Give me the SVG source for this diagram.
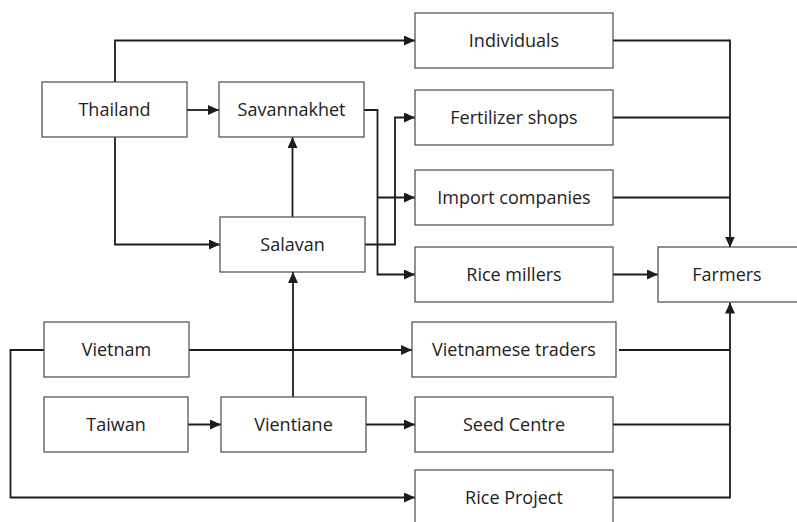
<svg xmlns="http://www.w3.org/2000/svg" width="797" height="522" viewBox="0 0 797 522">
  <style>
    .box rect { fill: #ffffff; stroke: #4a4a4a; stroke-width: 1.2; }
    .box text { font-family: "Open Sans", "Noto Sans", "Liberation Sans", sans-serif; font-size: 18px; fill: #222222; text-anchor: middle; }
    .edges path { fill: none; stroke: #1c1c1c; stroke-width: 1.8; stroke-linejoin: miter; }
    .edges path.a { marker-end: url(#arr); }
  </style>
  <defs>
    <marker id="arr" markerWidth="11" markerHeight="10" refX="11" refY="5" orient="auto" markerUnits="userSpaceOnUse">
      <path d="M0,0 L11,5 L0,10 Z" fill="#1c1c1c"/>
    </marker>
  </defs>
  <rect width="797" height="522" fill="#ffffff"/>

  <g class="edges" id="connectors">
    <!-- Thailand -> Individuals -->
    <path class="a" d="M115,82 V40.5 H415"/>
    <!-- Thailand -> Savannakhet -->
    <path class="a" d="M187,110 H219"/>
    <!-- Thailand -> Salavan -->
    <path class="a" d="M115,137 V244.5 H220"/>
    <!-- Salavan -> Savannakhet -->
    <path class="a" d="M292.5,217 V137"/>
    <!-- Vientiane -> Salavan -->
    <path class="a" d="M293,397 V272"/>
    <!-- Savannakhet -> Rice millers / Import companies -->
    <path class="a" d="M364,110 H377.5 V274.5 H415"/>
    <path class="a" d="M377.5,197.5 H415"/>
    <!-- Salavan -> Fertilizer shops -->
    <path class="a" d="M365,244.5 H395 V117.5 H415"/>
    <!-- Vietnam -> Vietnamese traders -->
    <path class="a" d="M189,350 H412"/>
    <!-- Vietnam -> Rice Project -->
    <path class="a" d="M44,350 H10.5 V497.5 H415"/>
    <!-- Taiwan -> Vientiane -->
    <path class="a" d="M188,424.5 H221"/>
    <!-- Vientiane -> Seed Centre -->
    <path class="a" d="M366,424.5 H415"/>
    <!-- upper suppliers -> Farmers (top) -->
    <path class="a" d="M613,40.5 H730 V247.5"/>
    <path d="M613,117.5 H730"/>
    <path d="M613,197.5 H730"/>
    <!-- Rice millers -> Farmers -->
    <path class="a" d="M613,274.5 H658"/>
    <!-- lower suppliers -> Farmers (bottom) -->
    <path class="a" d="M613,497.5 H730 V302.5"/>
    <path d="M619,350 H730"/>
    <path d="M613,424.5 H730"/>
  </g>

  <g class="box" id="thailand"><rect x="42" y="82" width="145" height="55"/><text x="114.5" y="116">Thailand</text></g>
  <g class="box" id="savannakhet"><rect x="219" y="82" width="145" height="55"/><text x="291.5" y="116">Savannakhet</text></g>
  <g class="box" id="salavan"><rect x="220" y="217" width="145" height="55"/><text x="292.5" y="251">Salavan</text></g>
  <g class="box" id="vietnam"><rect x="44" y="322" width="145" height="55"/><text x="116.5" y="356">Vietnam</text></g>
  <g class="box" id="taiwan"><rect x="44" y="397" width="144" height="55"/><text x="116" y="431">Taiwan</text></g>
  <g class="box" id="vientiane"><rect x="221" y="397" width="145" height="55"/><text x="293.5" y="431">Vientiane</text></g>
  <g class="box" id="individuals"><rect x="415" y="13" width="198" height="55"/><text x="514" y="47">Individuals</text></g>
  <g class="box" id="fertilizer-shops"><rect x="415" y="90" width="198" height="55"/><text x="514" y="124">Fertilizer shops</text></g>
  <g class="box" id="import-companies"><rect x="415" y="170" width="198" height="55"/><text x="514" y="204">Import companies</text></g>
  <g class="box" id="rice-millers"><rect x="415" y="247" width="198" height="55"/><text x="514" y="281">Rice millers</text></g>
  <g class="box" id="vietnamese-traders"><rect x="412" y="322" width="204" height="55"/><text x="514" y="356">Vietnamese traders</text></g>
  <g class="box" id="seed-centre"><rect x="415" y="397" width="198" height="55"/><text x="514" y="431">Seed Centre</text></g>
  <g class="box" id="rice-project"><rect x="415" y="470" width="198" height="60"/><text x="514" y="504">Rice Project</text></g>
  <g class="box" id="farmers"><rect x="658" y="247" width="145" height="55"/><text x="727" y="281">Farmers</text></g>
</svg>
